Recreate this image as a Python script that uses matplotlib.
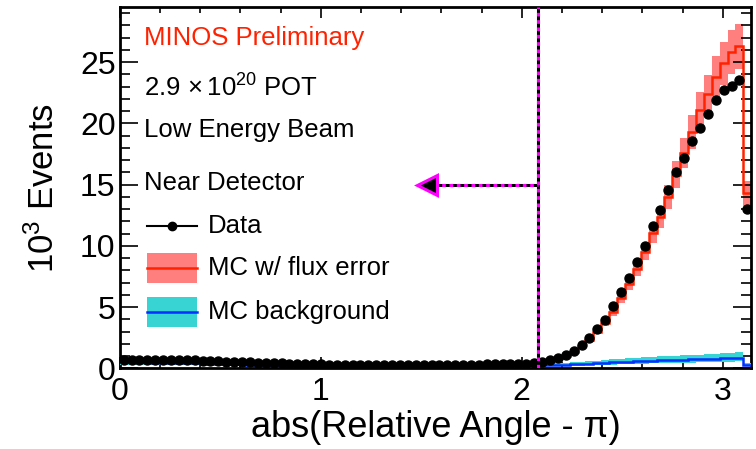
import numpy as np
import matplotlib
matplotlib.use("Agg")
import matplotlib.pyplot as plt
from matplotlib.patches import Rectangle
from matplotlib.lines import Line2D

plt.rcParams['font.family'] = ['Liberation Sans', 'DejaVu Sans']
plt.rcParams['mathtext.fontset'] = 'custom'
plt.rcParams['mathtext.rm'] = 'Liberation Sans'
plt.rcParams['mathtext.it'] = 'Liberation Sans:italic'

# ---- data: 80 bins over [0, pi], values in 10^3 events ----
N_BINS = 80
data = [0.72, 0.73, 0.72, 0.71, 0.71, 0.70, 0.70, 0.69,
        0.68, 0.66, 0.64, 0.62, 0.60, 0.57, 0.55, 0.52,
        0.50, 0.48, 0.46, 0.44, 0.42, 0.40, 0.38, 0.36, 0.35, 0.34,
        0.32, 0.31, 0.30, 0.30, 0.29, 0.29, 0.28, 0.28, 0.28, 0.28,
        0.28, 0.28, 0.28, 0.29, 0.29, 0.29, 0.30, 0.30, 0.31, 0.32,
        0.33, 0.34, 0.35, 0.36, 0.38, 0.40,
        0.42, 0.50, 0.66, 0.82, 1.10, 1.45, 1.92, 2.52,
        3.23, 3.93, 5.07, 6.25, 7.36, 8.71, 9.99, 11.6, 12.9, 14.56,
        16.0, 17.15, 18.56, 19.62, 20.73, 21.9, 22.72, 23.04, 23.58, 13.0]
mc = [0.70, 0.71, 0.71, 0.70, 0.70, 0.69, 0.68, 0.68,
      0.66, 0.65, 0.63, 0.61, 0.59, 0.56, 0.54, 0.51,
      0.49, 0.47, 0.45, 0.43, 0.41, 0.39, 0.37, 0.35, 0.34, 0.33,
      0.31, 0.30, 0.29, 0.29, 0.28, 0.28, 0.28, 0.27, 0.27, 0.27,
      0.28, 0.28, 0.28, 0.28, 0.29, 0.29, 0.30, 0.31, 0.32, 0.33,
      0.34, 0.36, 0.38, 0.40, 0.42, 0.44,
      0.47, 0.56, 0.70, 0.86, 1.06, 1.36, 1.80, 2.36,
      3.00, 3.75, 4.62, 5.72, 6.86, 8.12, 9.52, 11.03, 12.35, 14.02,
      15.8, 17.55, 19.3, 21.1, 22.4, 23.8, 24.9, 25.8, 26.3, 14.3]
bkg = [0.50, 0.50, 0.49, 0.49, 0.48, 0.47, 0.46, 0.45, 0.44, 0.42, 0.41, 0.40, 0.38,
       0.36, 0.35, 0.33, 0.32, 0.30, 0.29, 0.28, 0.26, 0.25, 0.24, 0.23, 0.22, 0.21,
       0.20, 0.19, 0.19, 0.18, 0.18, 0.17, 0.17, 0.17, 0.16, 0.16,
       0.16, 0.16, 0.16, 0.16, 0.16, 0.17, 0.17, 0.17, 0.18, 0.18,
       0.19, 0.19, 0.20, 0.20, 0.21, 0.22, 0.23, 0.25,
       0.27, 0.29, 0.32, 0.34, 0.37, 0.40, 0.43, 0.46, 0.50, 0.53, 0.56, 0.59,
       0.62, 0.64, 0.66, 0.68, 0.70, 0.72, 0.74, 0.76, 0.78, 0.80, 0.82, 0.85, 0.88, 0.29]
FLUX_ERR = 0.07                 # fractional MC flux error band
BKG_ERR_UP, BKG_ERR_DN = 0.5, 0.35
CUT = 2.08                      # selection cut
ARROW_Y, ARROW_END = 15.0, 1.53

data = np.array(data); mc = np.array(mc); bkg = np.array(bkg)
edges = np.linspace(0, np.pi, N_BINS + 1)
centers = 0.5 * (edges[1:] + edges[:-1])
hw = 0.5 * (edges[1] - edges[0])

RED_BAND = "#ff7f7f"; RED = "#ff2200"
CYAN = "#38d4d4"; BLUE = "#0030ff"; MAG = "#ff00ff"

fig = plt.figure(figsize=(7.56, 4.49), dpi=100)
ax = fig.add_axes([0.1583, 0.1793, 0.8354, 0.8051])

ax.stairs(mc * (1 + FLUX_ERR), edges, baseline=mc * (1 - FLUX_ERR), fill=True,
          color=RED_BAND, lw=0, zorder=1)
ax.stairs(mc, edges, color=RED, lw=1.8, baseline=None, zorder=2)
ax.stairs(bkg * (1 + BKG_ERR_UP), edges, baseline=bkg * (1 - BKG_ERR_DN), fill=True,
          color=CYAN, lw=0, zorder=3)
ax.stairs(bkg, edges, color=BLUE, lw=1.8, baseline=None, zorder=4)
ax.errorbar(centers, data, xerr=hw, fmt="o", color="black", ms=6.5, lw=1.0,
            capsize=0, zorder=5)

# cut line + arrow (black underlay with magenta dashes)
for xs, ys in [([CUT, CUT], [0, 29.5]), ([ARROW_END, CUT], [ARROW_Y, ARROW_Y])]:
    ax.plot(xs, ys, color="black", lw=2.2, zorder=6, solid_capstyle="butt")
    ax.plot(xs, ys, color=MAG, lw=2.2, dashes=(1.2, 1.2), zorder=7)
ax.plot([ARROW_END], [ARROW_Y], marker="<", ms=14, mfc="black", mec=MAG,
        mew=2.2, zorder=8)

ax.set_xlim(0, np.pi)
ax.set_ylim(0, 29.5)
ax.set_xticks([0, 1, 2, 3])
ax.set_xticks(np.arange(0, 3.15, 0.2), minor=True)
ax.set_yticks([0, 5, 10, 15, 20, 25])
ax.set_yticks(np.arange(0, 30, 1), minor=True)
ax.tick_params(which="both", direction="in", top=True, right=True,
               labelsize=23, width=1.2, colors="black")
ax.tick_params(axis="x", which="major", length=8, pad=6)
ax.tick_params(axis="x", which="minor", length=4)
ax.tick_params(axis="y", which="major", length=13, pad=3)
ax.tick_params(axis="y", which="minor", length=7)
for s in ax.spines.values():
    s.set_linewidth(2.0)

ax.set_xlabel("abs(Relative Angle - π)", fontsize=26, labelpad=2)
ax.set_ylabel(r"$10^{3}$ Events", fontsize=25, labelpad=14)

# labels
ax.text(0.038, 0.914, "MINOS Preliminary", color=RED, fontsize=18.5,
        transform=ax.transAxes, va="center")
ax.text(0.038, 0.776, r"$2.9\,\times10^{20}$ POT", fontsize=18.5,
        transform=ax.transAxes, va="center")
ax.text(0.038, 0.660, "Low Energy Beam", fontsize=18.5,
        transform=ax.transAxes, va="center")
ax.text(0.038, 0.513, "Near Detector", fontsize=18.5,
        transform=ax.transAxes, va="center")

# legend keys drawn by hand (ROOT-style boxes)
kx0, kx1, tx = 0.043, 0.122, 0.140
kh = 0.085
entries = [(0.394, "Data", None, "black"),
           (0.278, "MC w/ flux error", RED_BAND, RED),
           (0.156, "MC background", CYAN, BLUE)]
for yc, label, box, line in entries:
    if box is not None:
        ax.add_patch(Rectangle((kx0, yc - kh / 2), kx1 - kx0, kh, transform=ax.transAxes,
                               facecolor=box, edgecolor="none", zorder=9))
        ax.add_line(Line2D([kx0, kx1], [yc, yc], transform=ax.transAxes,
                           color=line, lw=1.8, zorder=10))
    else:
        ax.add_line(Line2D([kx0, kx1], [yc, yc], transform=ax.transAxes,
                           color=line, lw=1.5, zorder=10))
        ax.plot([(kx0 + kx1) / 2], [yc], "o", color="black", ms=6,
                transform=ax.transAxes, zorder=11)
    ax.text(tx, yc, label, fontsize=18.5, transform=ax.transAxes, va="center")

fig.savefig("out.png", dpi=100)
